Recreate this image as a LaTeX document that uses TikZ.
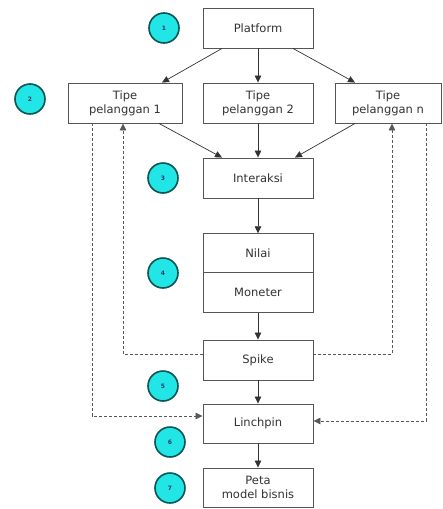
\documentclass[tikz,border=0pt]{standalone}
\usepackage{fontspec}
\setmainfont{DejaVu Sans}
\usetikzlibrary{arrows.meta,calc}
\definecolor{boxline}{HTML}{555555}
\definecolor{txt}{HTML}{333333}
\definecolor{cyanfill}{HTML}{22E6E6}
\definecolor{tealline}{HTML}{0A5555}
\definecolor{numblue}{HTML}{1A3A70}
\begin{document}
\begin{tikzpicture}[x=1pt,y=-1pt,
  stepbox/.style={draw=boxline,line width=0.9pt,fill=white,minimum width=110pt,minimum height=40pt,inner sep=0pt,align=center,font=\fontsize{11.5}{14}\selectfont,text=txt},
  halfbox/.style={stepbox,minimum height=39.5pt},
  badge/.style={circle,draw=tealline,line width=1.6pt,fill=cyanfill,minimum size=30pt,inner sep=0pt,font=\fontsize{6}{7}\selectfont\bfseries,text=numblue},
  arr/.style={draw=black!80,line width=0.7pt,-{Triangle[length=7pt,width=6.5pt]}},
  darr/.style={arr,dashed,dash pattern=on 3pt off 2pt,draw=black!65}]
\useasboundingbox (0,0) rectangle (443,509);
% nodes
\node[stepbox] (plat) at (258,28) {Platform};
\node[stepbox,minimum width=114pt] (t1) at (125,103) {Tipe\\pelanggan 1};
\node[stepbox] (t2) at (258,103) {Tipe\\pelanggan 2};
\node[stepbox,minimum width=106pt] (tn) at (388,103) {Tipe\\pelanggan n};
\node[stepbox] (inter) at (258,178) {Interaksi};
\node[halfbox] (nilai) at (258,253.5) {Nilai};
\node[halfbox] (mon) at (258,292.5) {Moneter};
\node[stepbox] (spike) at (258,360) {Spike};
\node[stepbox,minimum height=39pt] (linch) at (258,423.5) {Linchpin};
\node[stepbox,minimum height=39pt] (peta) at (258,487.5) {Peta\\model bisnis};
% badges
\node[badge] (b1) at (164,28) {1};
\node[badge] (b2) at (30,99) {2};
\node[badge] (b3) at (163,178) {3};
\node[badge] (b4) at (163,273) {4};
\node[badge] (b5) at (163,386) {5};
\node[badge] (b6) at (170,442) {6};
\node[badge] (b7) at (170,488) {7};
% solid arrows
\draw[arr] ($(plat.south)+(-36,0)$) -- ($(t1.north)+(37,0)$);
\draw[arr] (plat.south) -- (t2.north);
\draw[arr] ($(plat.south)+(35,0)$) -- ($(tn.north)+(-33,0)$);
\draw[arr] ($(t1.south)+(34,0)$) -- ($(inter.north)+(-36,0)$);
\draw[arr] (t2.south) -- (inter.north);
\draw[arr] ($(tn.south)+(-33,0)$) -- ($(inter.north)+(37,0)$);
\draw[arr] (inter.south) -- (nilai.north);
\draw[arr] (mon.south) -- (spike.north);
\draw[arr] (spike.south) -- (linch.north);
\draw[arr] (linch.south) -- (peta.north);
% dashed feedback
\coordinate (sl) at ($(spike.west)+(0,-6)$);
\coordinate (sr) at ($(spike.east)+(0,-6)$);
\coordinate (t1in) at (123,0);
\coordinate (tnin) at (392,0);
\draw[darr] (sl) -| (t1in |- t1.south);
\draw[darr] (sr) -| (tnin |- tn.south);
\coordinate (t1out) at (92,0);
\coordinate (tnout) at (426,0);
\coordinate (ll) at ($(linch.west)+(0,-7.5)$);
\coordinate (lr) at ($(linch.east)+(0,-2.5)$);
\draw[darr] (t1out |- t1.south) |- (ll);
\draw[darr] (tnout |- tn.south) |- (lr);
\end{tikzpicture}
\end{document}
